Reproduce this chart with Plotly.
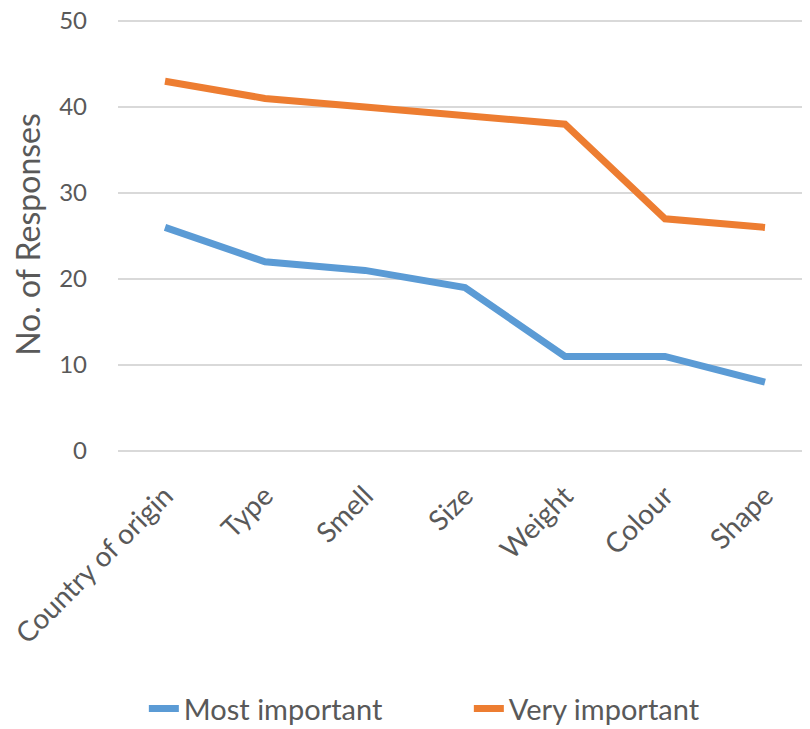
import plotly.graph_objects as go

categories = ["Country of origin", "Type", "Smell", "Size", "Weight", "Colour", "Shape"]
most_important = [26, 22, 21, 19, 11, 11, 8]
very_important = [43, 41, 40, 39, 38, 27, 26]

text_color = "#595959"
font_family = "Lato, Calibri, sans-serif"

fig = go.Figure()
fig.add_trace(go.Scatter(
    x=categories,
    y=most_important,
    mode="lines",
    name="Most important",
    line={"color": "#5B9BD5", "width": 7},
))
fig.add_trace(go.Scatter(
    x=categories,
    y=very_important,
    mode="lines",
    name="Very important",
    line={"color": "#ED7D31", "width": 7},
))

# page has an 8px body margin, so the figure is a bit smaller than the window
# y range goes a touch past 50 so plotly keeps the top gridline
fig.update_layout(
    width=802,
    height=721,
    margin={"l": 110, "r": 0, "t": 10, "b": 278, "autoexpand": False},
    paper_bgcolor="white",
    plot_bgcolor="white",
    font={"family": font_family, "color": text_color, "size": 24},
    showlegend=True,
    legend={
        "orientation": "h",
        "x": 0.507,
        "xanchor": "center",
        "y": -0.595,
        "yanchor": "middle",
        "font": {"size": 29, "color": text_color},
        "entrywidth": 280,
        "tracegroupgap": 0,
    },
    xaxis={
        "type": "category",
        "range": [-0.47, 6.45],
        "tickangle": -45,
        "showgrid": False,
        "showline": False,
        "ticks": "",
        "automargin": False,
        "ticklabelstandoff": 22,
        "tickfont": {"size": 28},
    },
    yaxis={
        "range": [0, 50.35],
        "tickvals": [0, 10, 20, 30, 40, 50],
        "ticklabeloverflow": "allow",
        "showgrid": True,
        "gridcolor": "#D9D9D9",
        "gridwidth": 1.5,
        "zeroline": True,
        "zerolinecolor": "#D9D9D9",
        "zerolinewidth": 1.5,
        "showline": False,
        "ticks": "",
        "automargin": False,
        "ticklabelstandoff": 30,
        "tickfont": {"size": 24},
        "title": {"text": "No. of Responses", "font": {"size": 32}, "standoff": 12},
    },
)

fig.write_html("out.html")
